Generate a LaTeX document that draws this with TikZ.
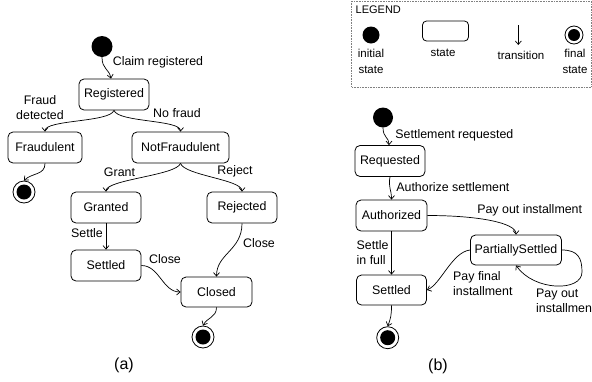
\documentclass[tikz,border=0pt]{standalone}
\usepackage{fontspec}
\setmainfont{Liberation Sans}
\usetikzlibrary{arrows.meta}
\begin{document}
\begin{tikzpicture}[x=1pt,y=-1pt,
  every node/.style={font=\fontsize{12.4}{15}\selectfont, inner sep=0pt},
  stbox/.style={draw, rounded corners=5pt, minimum height=31pt, minimum width=70pt, line width=0.8pt},
  initst/.style={circle, fill=black, minimum size=#1},
  initst/.default=21pt,
  finalst/.style={circle, draw, line width=0.8pt, minimum size=22pt,
    path picture={\fill (path picture bounding box.center) circle (#1);}},
  finalst/.default=7.5pt,
  tr/.style={-{Straight Barb[length=3.5pt,width=6pt]}, line width=0.7pt},
  leg/.style={font=\fontsize{11.5}{16}\selectfont, align=center},
  captxt/.style={font=\fontsize{16}{18}\selectfont}
]
\useasboundingbox (0,0) rectangle (592,381);

% ---------- (a) ----------
\node[initst] (ia) at (102,46.5) {};
\node[stbox] (reg) at (114,94.5) {Registered};
\node[stbox, minimum width=74pt] (fra) at (45,147.5) {Fraudulent};
\node[stbox, minimum width=97pt] (nf) at (180.5,147.5) {NotFraudulent};
\node[stbox] (gra) at (106,207.5) {Granted};
\node[stbox] (rej) at (242,207.5) {Rejected};
\node[stbox] (setA) at (106,265.5) {Settled};
\node[stbox, minimum width=71pt, minimum height=30pt] (clo) at (216.5,292) {Closed};
\node[finalst] (fa1) at (24,192) {};
\node[finalst] (fa2) at (203,337) {};

\node (l1) at (158,62) {Claim registered};
\node[align=center] (l2) at (40,107.5) {Fraud\\detected};
\node (l3) at (177,113) {No fraud};
\node (l4) at (119.5,172) {Grant};
\node (l5) at (235,171) {Reject};
\node (l6) at (87,233) {Settle};
\node (l7) at (165,259) {Close};
\node (l8) at (259,243) {Close};
\node[captxt] (capa) at (124,365) {(a)};

\draw[tr] (ia.south) .. controls +(0,12) and +(-2,-10) .. ([xshift=-3pt]reg.north);
\draw[tr] (reg.south) .. controls +(-4,12) and +(0,-12) .. (fra.north);
\draw[tr] (reg.south) .. controls +(4,12) and +(0,-12) .. (nf.north);
\draw[tr] (fra.south) .. controls +(0,12) and +(8,-8) .. (fa1.north);
\draw[tr] (nf.south) .. controls +(-4,12) and +(0,-12) .. (gra.north);
\draw[tr] (nf.south) .. controls +(4,12) and +(0,-12) .. (rej.north);
\draw[tr] (gra) -- (setA);
\draw[tr] (setA.east) .. controls +(18,0) and +(-18,0) .. (clo.west);
\draw[tr] (rej.south) .. controls +(0,27) and +(0,-23) .. (clo.north);
\draw[tr] (clo.south) .. controls +(0,10) and +(4,-8) .. (fa2.north);

% ---------- (b) ----------
\node[initst=20pt] (ib) at (383,117.5) {};
\node[stbox] (req) at (390,161) {Requested};
\node[stbox, minimum width=71pt] (aut) at (391.5,215.5) {Authorized};
\node[stbox, minimum width=91pt, minimum height=30pt] (ps) at (516,250) {PartiallySettled};
\node[stbox, minimum height=30pt] (setB) at (391.5,290) {Settled};
\node[finalst] (fb) at (387.7,337.7) {};

\node (m1) at (454.4,135) {Settlement requested};
\node (m2) at (452.9,187.5) {Authorize settlement};
\node (m3) at (529.7,210.7) {Pay out installment};
\node[align=left, anchor=west] (m4) at (356.5,252.5) {Settle\\in full};
\node[align=left, anchor=west] (m5) at (453,284) {Pay final\\installment};
\node[align=left, anchor=west] (m6) at (536,301) {Pay out\\installment};
\node[captxt] (capb) at (438,366.5) {(b)};

\coordinate (psloop) at (582,272);
\draw[tr] (ib.south) .. controls +(0,10) and +(0,-8) .. ([xshift=-1pt]req.north);
\draw[tr] (req.south) .. controls +(-2,10) and +(0,-10) .. (aut.north);
\draw[tr] (aut.east) .. controls +(50,0) and +(0,-12) .. (ps.north);
\draw[tr] (aut) -- (setB);
\draw[tr] (ps.west) .. controls +(-18,2) and +(14,-6) .. (setB.east);
\draw[tr] (ps.east) .. controls +(16,0) and +(0,-14) .. (psloop) .. controls +(0,20) and +(18,26) .. (ps.south);
\draw[tr] (setB.south) .. controls +(0,10) and +(3,-8) .. (fb.north);

% ---------- legend ----------
\draw[gray, densely dotted, line width=0.6pt] (351.5,1) rectangle (591,87);
\node[font=\fontsize{11}{13}\selectfont, anchor=west] (lgt) at (355.5,10) {LEGEND};
\node[initst=17pt] (li) at (371,35) {};
\node[draw, rounded corners=4pt, minimum width=46pt, minimum height=20pt, line width=0.8pt] (ls) at (445.5,31) {};
\coordinate (lt1) at (518.3,25);
\coordinate (lt2) at (518.3,45);
\draw[tr] (lt1) -- (lt2);
\node[finalst=6pt, minimum size=18pt] (lf) at (574,35) {};
\node[leg] (lli) at (371,61.5) {initial\\state};
\node[leg] (lls) at (443,53) {state};
\node[leg] (llt) at (521,55) {transition};
\node[leg] (llf) at (575,61.5) {final\\state};
\end{tikzpicture}
\end{document}
